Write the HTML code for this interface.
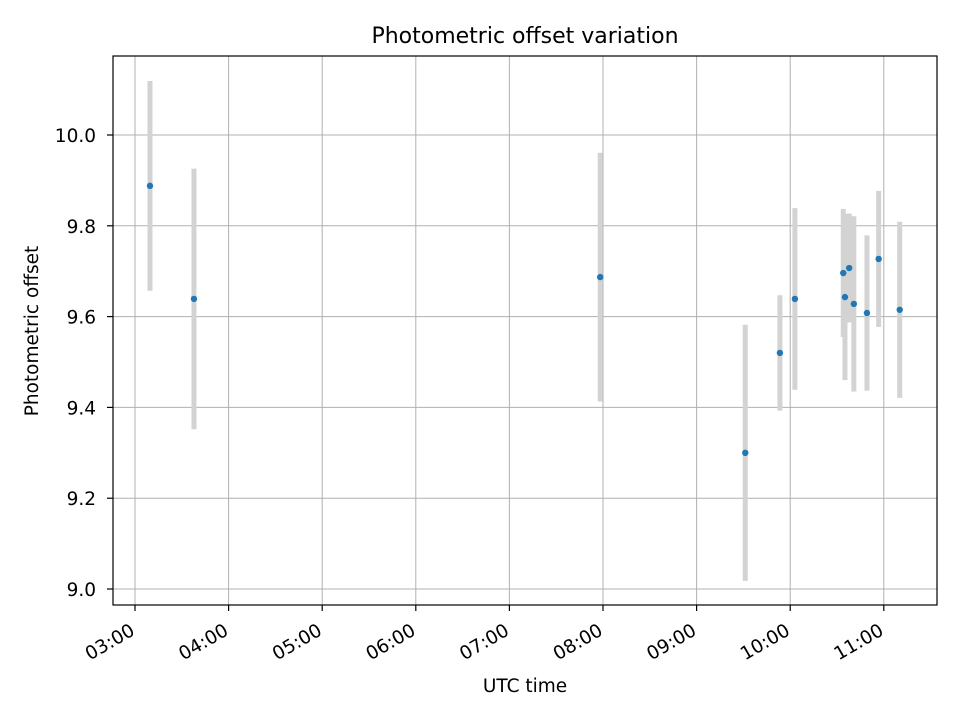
<!DOCTYPE html>
<html><head><meta charset="utf-8">
<style>
html,body{margin:0;padding:0;background:#fff;}
svg{display:block;font-family:"DejaVu Sans","Liberation Sans",sans-serif;}
</style></head>
<body>
<svg id="chart" width="960" height="720" xmlns="http://www.w3.org/2000/svg">
<rect width="960" height="720" fill="#fff"/>
<g id="grid"></g>
<g id="errs"></g>
<g id="pts"></g>
<rect x="113" y="56" width="824" height="549" fill="none" stroke="#000" stroke-width="1.2"/>
<g id="axes"></g>
<text x="525" y="43" text-anchor="middle" font-size="22">Photometric offset variation</text>
<text x="525" y="692" text-anchor="middle" font-size="18.5">UTC time</text>
<text transform="translate(38,331) rotate(-90)" text-anchor="middle" font-size="18.5">Photometric offset</text>
</svg>
<script>
const times = [3.16, 3.63, 7.97, 9.52, 9.89, 10.05, 10.567, 10.585, 10.63, 10.68, 10.82, 10.945, 11.17];
const offsets = [9.888, 9.639, 9.687, 9.300, 9.520, 9.639, 9.696, 9.643, 9.707, 9.628, 9.608, 9.727, 9.615];
const errors = [0.231, 0.287, 0.274, 0.282, 0.127, 0.200, 0.141, 0.183, 0.120, 0.193, 0.171, 0.150, 0.194];
const xTicks = [3,4,5,6,7,8,9,10,11];
const xTickLabels = ["03:00","04:00","05:00","06:00","07:00","08:00","09:00","10:00","11:00"];
const yTicks = [9.0,9.2,9.4,9.6,9.8,10.0];
const yTickLabels = ["9.0","9.2","9.4","9.6","9.8","10.0"];

const NS="http://www.w3.org/2000/svg";
function xs(t){return 135+(t-3)*93.6;}
function ys(v){return 589-(v-9.0)*454;}
function mk(tag,attrs,parent,text){const e=document.createElementNS(NS,tag);for(const k in attrs)e.setAttribute(k,attrs[k]);if(text!==undefined)e.textContent=text;parent.appendChild(e);return e;}
const grid=document.getElementById('grid'),axes=document.getElementById('axes'),errs=document.getElementById('errs'),pts=document.getElementById('pts');
xTicks.forEach((t,i)=>{
  const x=xs(t);
  const g=mk('line',{x1:x,x2:x,y1:56,y2:605,stroke:'#b0b0b0','stroke-width':1},grid);
  
  
  const tk=mk('line',{x1:x,x2:x,y1:605,y2:611,stroke:'#000','stroke-width':1.2},axes);
  
  
  const ax=x+1, ay=634;
  const lb=mk('text',{x:ax,y:ay,'text-anchor':'end','font-size':18.5,transform:`rotate(-30 ${ax} ${ay})`},axes,xTickLabels[i]);
  
  
});
yTicks.forEach((v,i)=>{
  const y=ys(v);
  const g=mk('line',{x1:113,x2:937,y1:y,y2:y,stroke:'#b0b0b0','stroke-width':1},grid);
  
  
  const tk=mk('line',{x1:107,x2:113,y1:y,y2:y,stroke:'#000','stroke-width':1.2},axes);
  
  
  const lb=mk('text',{x:96,y:y+7,'text-anchor':'end','font-size':18.5},axes,yTickLabels[i]);
  
  
});
times.forEach((t,i)=>{
  const x=xs(t);
  const e=mk('line',{x1:x,x2:x,y1:ys(offsets[i]+errors[i]),y2:ys(offsets[i]-errors[i]),stroke:'#d3d3d3','stroke-width':5},errs);
  
  
});
times.forEach((t,i)=>{
  const c=mk('circle',{cx:xs(t),cy:ys(offsets[i]),r:3.2,fill:'#1f77b4'},pts);
  
  
});
</script>
</body></html>
